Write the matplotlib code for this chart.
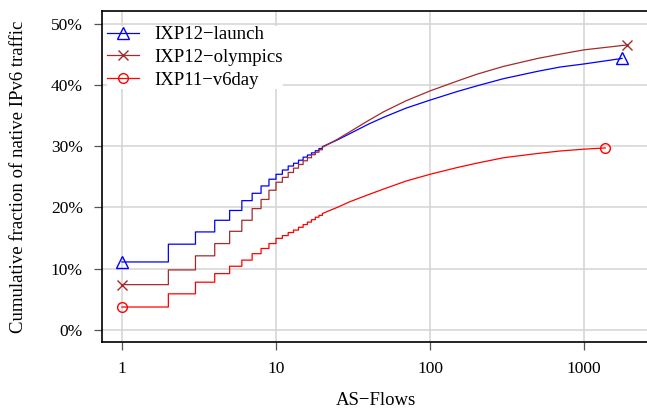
import matplotlib
matplotlib.use("Agg")
import matplotlib.pyplot as plt
from matplotlib.ticker import FixedLocator, FuncFormatter, NullLocator

plt.rcParams['font.family'] = ['Liberation Serif', 'DejaVu Serif']

# ---- data (fraction of native IPv6 traffic, in %) ----
step_x = list(range(1, 21))
launch_steps = [11.1, 14.0, 16.0, 17.9, 19.5, 21.1, 22.3, 23.5, 24.6, 25.4,
                26.1, 26.75, 27.2, 27.7, 28.2, 28.55, 28.9, 29.25, 29.6, 29.9]
olympics_steps = [7.4, 9.8, 12.1, 14.1, 16.1, 17.9, 19.8, 21.3, 22.8, 24.1,
                  24.9, 25.7, 26.4, 27.0, 27.6, 28.1, 28.6, 29.0, 29.4, 29.8]
v6day_steps = [3.75, 5.9, 7.8, 9.2, 10.4, 11.4, 12.45, 13.3, 14.1, 14.95,
               15.4, 15.9, 16.3, 16.75, 17.2, 17.6, 18.0, 18.4, 18.7, 19.0]

launch_tail_x = [25, 30, 40, 50, 70, 100, 150, 200, 300, 500, 700, 1000, 1766]
launch_tail_y = [31.0, 32.0, 33.6, 34.7, 36.2, 37.5, 38.9, 39.8, 41.0, 42.2, 42.9, 43.4, 44.3]
olympics_tail_x = [25, 30, 40, 50, 70, 100, 150, 200, 300, 500, 700, 1000, 1902]
olympics_tail_y = [31.1, 32.3, 34.2, 35.6, 37.4, 39.0, 40.6, 41.7, 43.0, 44.3, 45.0, 45.7, 46.5]
v6day_tail_x = [25, 30, 40, 50, 70, 100, 150, 200, 300, 500, 700, 1000, 1375]
v6day_tail_y = [20.0, 20.9, 22.1, 23.0, 24.3, 25.4, 26.5, 27.2, 28.1, 28.8, 29.2, 29.5, 29.7]

labels = ["IXP12\u2212launch", "IXP12\u2212olympics", "IXP11\u2212v6day"]
colors = ["#0000FF", "#A52A2A", "#FF0000"]
markers = ["^", "x", "o"]
msizes = [9, 7, 7]

x_ticks = [1, 10, 100, 1000]
x_ticklabels = ["1", "10", "100", "1000"]
y_ticks = [0, 10, 20, 30, 40, 50]


def build(steps, tx, ty):
    xs, ys = [], []
    for i in range(len(step_x) - 1):
        xs += [step_x[i], step_x[i + 1]]
        ys += [steps[i], steps[i]]
    xs.append(step_x[-1]); ys.append(steps[-1])
    xs += tx; ys += ty
    return xs, [v / 100 for v in ys]


series = [build(launch_steps, launch_tail_x, launch_tail_y),
          build(olympics_steps, olympics_tail_x, olympics_tail_y),
          build(v6day_steps, v6day_tail_x, v6day_tail_y)]

W, H = 647, 409
fig = plt.figure(figsize=(W / 100, H / 100), dpi=100)
l, r, t, b = 101.7, 651, 11, 342
axw, axh = r - l, b - t
ax = fig.add_axes([l / W, 1 - b / H, axw / W, axh / H])

ax.set_xscale('log')
ax.set_xlim(10 ** ((l - 122) / 154), 10 ** ((r - 122) / 154))
ax.set_ylim(-(b - 330) / 613.0, (330 - t) / 613.0)

for (xs, ys), lab, c, m, ms in zip(series, labels, colors, markers, msizes):
    ax.plot(xs, ys, color=c, lw=0.9, marker=m, markevery=[0, len(xs) - 1],
            ms=ms, mfc='none', mec=c, mew=1.0, label=lab, zorder=3)

ax.xaxis.set_major_locator(FixedLocator(x_ticks))
ax.xaxis.set_minor_locator(NullLocator())
ax.set_xticklabels(x_ticklabels)
ax.yaxis.set_major_locator(FixedLocator([v / 100 for v in y_ticks]))
ax.yaxis.set_major_formatter(FuncFormatter(lambda v, p: f"{v*100:.0f}%"))

ax.grid(True, color='#D3D3D3', lw=1.1, zorder=0)
ax.set_axisbelow(True)
ax.tick_params(axis='both', which='major', length=6, width=0.9, color='#555555',
               labelsize=12.5)
ax.tick_params(axis='y', pad=7.6)
ax.tick_params(axis='x', pad=7.5)
for s in ['left', 'top', 'bottom']:
    ax.spines[s].set_linewidth(1.2)
ax.spines['right'].set_visible(False)

ax.set_xlabel("AS\u2212Flows", fontsize=13.5, labelpad=11)
ax.set_ylabel("Cumulative fraction of native IPv6 traffic", fontsize=13.5, labelpad=17)

leg = ax.legend(loc='upper left', fontsize=13.5, frameon=True, fancybox=False,
                edgecolor='none', facecolor='white', framealpha=1,
                handlelength=1.7, handletextpad=0.85, labelspacing=0.3,
                borderaxespad=0, borderpad=0,
                bbox_to_anchor=((107 - l) / axw, 1 - (26 - t) / axh))
leg.set_zorder(2.5)

fig.savefig("out.png", dpi=100)
